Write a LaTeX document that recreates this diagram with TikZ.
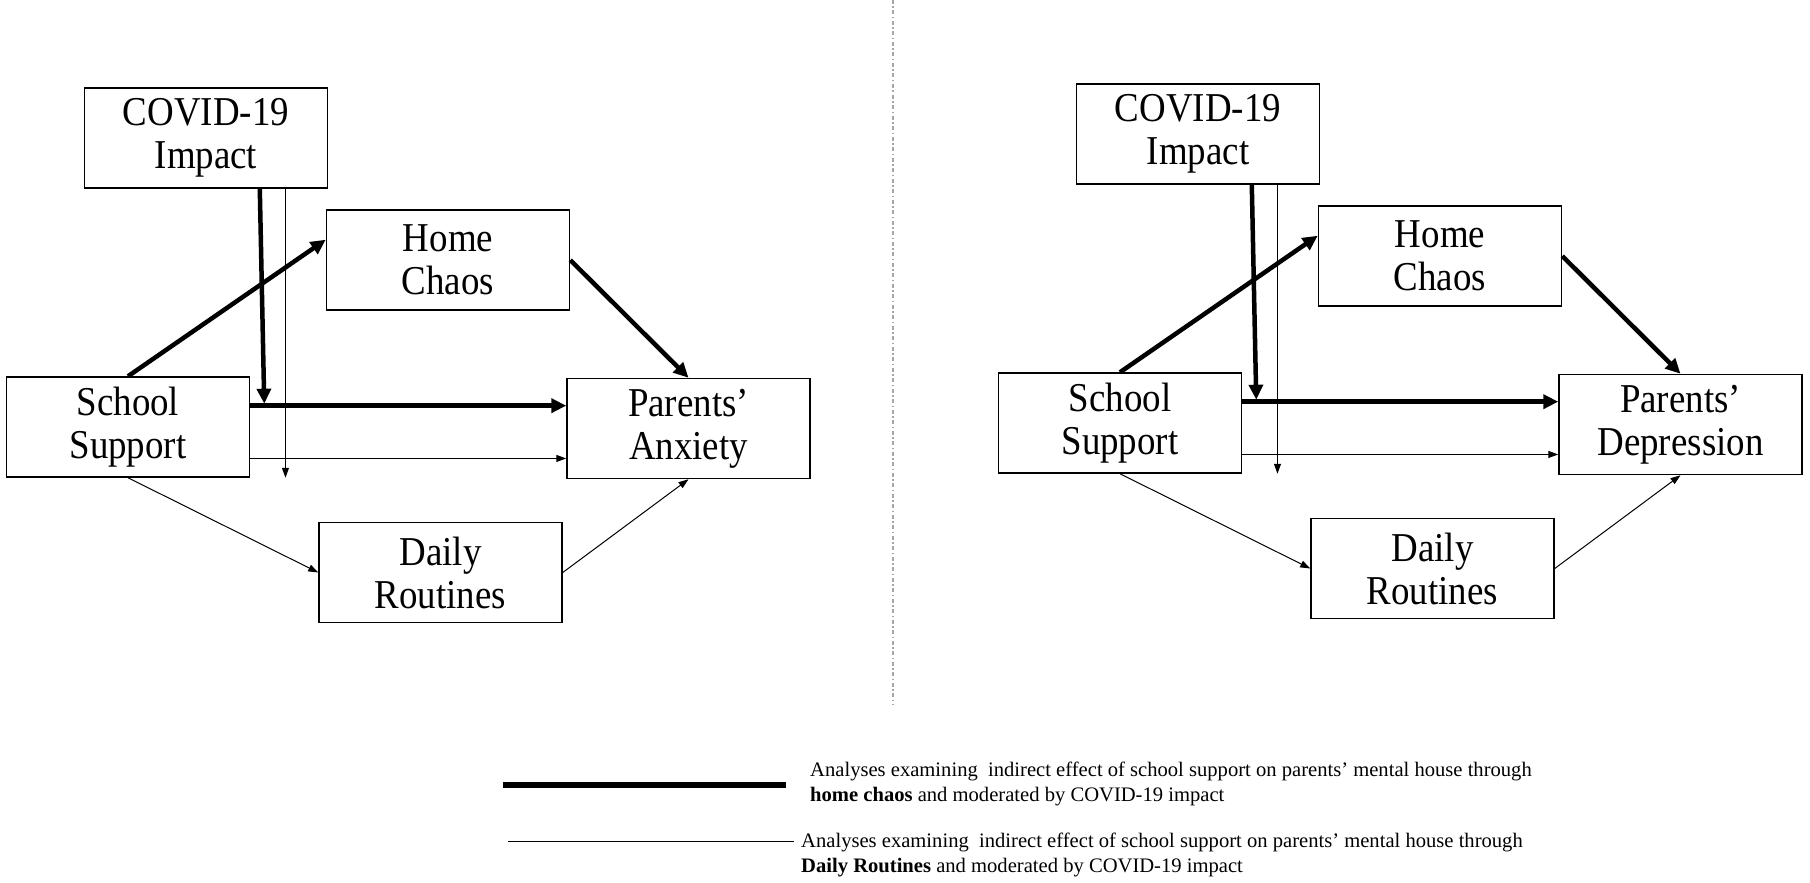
\documentclass[tikz,border=0pt]{standalone}
\usepackage{fontspec}
\setmainfont{Liberation Serif}[FakeStretch=0.9]
\newfontfamily\legfont{Liberation Serif}
\usetikzlibrary{arrows.meta,calc}
\tikzset{
  x=1pt,y=-1pt,
  varbox/.style={draw,line width=1.5pt,minimum width=243pt,minimum height=100pt,inner sep=0pt,align=center,font=\fontsize{41}{43}\selectfont},
  thickarr/.style={line width=4.5pt,-{Triangle[length=15pt,width=14pt]}},
  thinarr/.style={line width=1pt,-{Triangle[length=10pt,width=7pt]}},
  legtext/.style={anchor=base west,inner sep=0pt,font=\legfont\fontsize{20.6}{24}\selectfont},
}
\newcommand\drawmodel[3]{%
  \begin{scope}[shift={#2}]
    \node[varbox] (#1cov) at (206,138) {COVID-19\\Impact};
    \node[varbox] (#1hc) at (448,260) {Home\\Chaos};
    \node[varbox] (#1ss) at (128,427) {School\\Support};
    \node[varbox] (#1pa) at (688.5,428.5) {Parents’\\#3};
    \node[varbox] (#1dr) at (440.5,572.5) {Daily\\Routines};
    % thick paths
    \draw[thickarr] (#1ss.north) -- ($(#1hc.north west)!0.3!(#1hc.south west)$);
    \draw[thickarr] (#1hc.east) -- (#1pa.north);
    \coordinate (#1hs) at ($(#1ss.north east)!0.29!(#1ss.south east)$);
    \draw[thickarr] (#1hs) -- (#1pa.west |- #1hs);
    \coordinate (#1vt) at ($(#1hs)+(14,-2)$);
    \draw[thickarr] ($(#1cov.south west)!0.72!(#1cov.south east)$) -- (#1vt);
    % thin paths
    \coordinate (#1ts) at ($(#1ss.north east)!0.81!(#1ss.south east)$);
    \draw[thinarr] (#1ts) -- (#1pa.west |- #1ts);
    \coordinate (#1vs) at ($(#1cov.south west)!0.825!(#1cov.south east)$);
    \coordinate (#1ve) at (#1vs |- #1ss.south);
    \draw[thinarr] (#1vs) -- (#1ve);
    \draw[thinarr] (#1ss.south) -- (#1dr.west);
    \draw[thinarr] (#1dr.east) -- (#1pa.south);
  \end{scope}
}
\begin{document}
\begin{tikzpicture}
\useasboundingbox (0,0) rectangle (1810,883);
\drawmodel{L}{(0,0)}{Anxiety}
\drawmodel{R}{(992,-4)}{Depression}
% divider
\coordinate (dtop) at (893,0);
\coordinate (dbot) at (893,704);
\draw[gray!70,line width=1.2pt,dash pattern=on 4pt off 2.5pt on 1.5pt off 2.5pt] (dtop) -- (dbot);
% legend
\coordinate (la) at (503,785);
\coordinate (lb) at (786,785);
\draw[line width=6pt] (la) -- (lb);
\node[legtext] (t1a) at (810,776) {Analyses examining~ indirect effect of school support on parents’ mental house through};
\node[legtext] (t1b) at (810,801) {\textbf{home chaos} and moderated by COVID-19 impact};
\coordinate (lc) at (508,841.5);
\coordinate (ld) at (794,841.5);
\draw[line width=1.2pt] (lc) -- (ld);
\node[legtext] (t2a) at (801,847) {Analyses examining~ indirect effect of school support on parents’ mental house through};
\node[legtext] (t2b) at (801,872) {\textbf{Daily Routines} and moderated by COVID-19 impact};
\end{tikzpicture}
\end{document}
